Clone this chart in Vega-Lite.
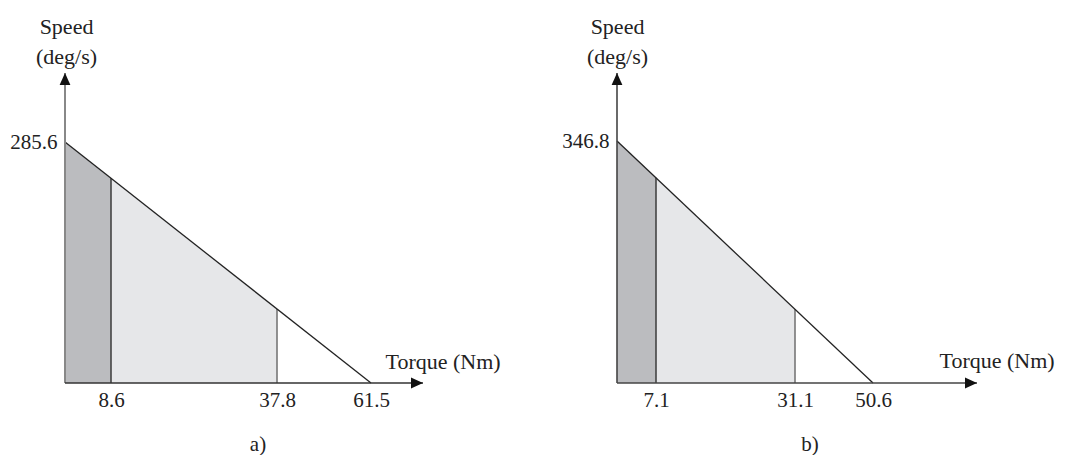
{
  "$schema": "https://vega.github.io/schema/vega-lite/v6.json",
  "padding": {"left": 9, "top": 15, "right": 0, "bottom": 0},
  "bounds": "flush",
  "spacing": 194,
  "background": "white",
  "config": {
    "view": {"stroke": null},
    "font": "Liberation Serif",
    "title": {"font": "Liberation Serif", "fontSize": 21, "fontWeight": "normal", "color": "#222"}
  },
  "hconcat": [
    {
      "width": 358,
      "height": 310,
      "title": {"text": "a)", "orient": "bottom", "anchor": "middle", "frame": "group", "dx": 14, "offset": 24, "baseline": "top"},
      "layer": [
        {
          "data": {"values": [
            {"torque": 0, "speed": 285.6, "zone": "peak"},
            {"torque": 8.6, "speed": 242.7, "zone": "peak"},
            {"torque": 8.6, "speed": 242.7, "zone": "continuous"},
            {"torque": 37.8, "speed": 87.7, "zone": "continuous"}
          ]},
          "mark": {"type": "area", "opacity": 1},
          "encoding": {
            "x": {"field": "torque", "type": "quantitative",
              "scale": {"domain": [0, 8.6, 37.8, 61.5, 70], "range": [0, 46, 212, 306, 358], "nice": false, "zero": false},
              "axis": {"values": [8.6, 37.8, 61.5], "format": ".1f", "domain": false, "ticks": false, "tickSize": 0, "grid": false,
                "labelFont": "Liberation Serif", "labelFontSize": 21, "labelColor": "#222", "labelPadding": 23, "labelBaseline": "alphabetic", "labelFlush": false, "labelOverlap": false,
                "title": "Torque (Nm)", "titleFont": "Liberation Serif", "titleFontSize": 22, "titleFontWeight": "normal", "titleColor": "#222",
                "titleX": 320, "titleY": -15, "titleAlign": "left", "titleBaseline": "alphabetic"}},
            "y": {"field": "speed", "type": "quantitative", "stack": null,
              "scale": {"domain": [0, 367.4], "nice": false, "zero": false},
              "axis": {"values": [285.6], "format": ".1f", "domain": false, "ticks": false, "tickSize": 0, "grid": false,
                "labelFont": "Liberation Serif", "labelFontSize": 21, "labelColor": "#222", "labelPadding": 8, "labelBaseline": "middle", "labelFlush": false, "labelOverlap": false,
                "title": ["Speed", "(deg/s)"], "titleFont": "Liberation Serif", "titleFontSize": 22, "titleFontWeight": "normal", "titleColor": "#222",
                "titleAngle": 0, "titleX": 1, "titleY": -40, "titleAlign": "center", "titleBaseline": "alphabetic", "titleLineHeight": 30}},
            "color": {"field": "zone", "type": "nominal", "scale": {"domain": ["peak", "continuous"], "range": ["#bbbcbf", "#e6e7e9"]}, "legend": null}
          }
        },
        {
          "data": {"values": [
            {"torque": 8.6, "speed": 242.7, "edge": "peak limit"},
            {"torque": 37.8, "speed": 87.7, "edge": "continuous limit"}
          ]},
          "mark": {"type": "rule", "strokeWidth": 1.6},
          "encoding": {
            "x": {"field": "torque", "type": "quantitative"},
            "y": {"field": "speed", "type": "quantitative"},
            "y2": {"datum": 0},
            "stroke": {"field": "edge", "type": "nominal", "scale": {"domain": ["peak limit", "continuous limit"], "range": ["#444444", "#777777"]}, "legend": null}
          }
        },
        {
          "data": {"values": [
            {"torque": 0, "speed": 285.6},
            {"torque": 61.5, "speed": 0}
          ]},
          "mark": {"type": "line", "stroke": "#222222", "strokeWidth": 1.3},
          "encoding": {
            "x": {"field": "torque", "type": "quantitative"},
            "y": {"field": "speed", "type": "quantitative"}
          }
        },
        {
          "data": {"values": [{"torque": 0, "speed": 367.4}]},
          "mark": {"type": "rule", "stroke": "#888888", "strokeWidth": 2},
          "encoding": {"x": {"field": "torque", "type": "quantitative"}, "y": {"field": "speed", "type": "quantitative"}, "y2": {"datum": 0}}
        },
        {
          "data": {"values": [{"torque": 70, "speed": 0}]},
          "mark": {"type": "rule", "stroke": "#333333", "strokeWidth": 1.6},
          "encoding": {"x": {"field": "torque", "type": "quantitative"}, "x2": {"datum": 0}, "y": {"field": "speed", "type": "quantitative"}}
        },
        {
          "data": {"values": [{"torque": 0, "speed": 367.4}]},
          "mark": {"type": "point", "filled": true, "opacity": 1, "color": "#111111", "size": 144, "shape": "M0,0L0.9,2L-0.9,2Z", "strokeWidth": 0},
          "encoding": {"x": {"field": "torque", "type": "quantitative"}, "y": {"field": "speed", "type": "quantitative"}}
        },
        {
          "data": {"values": [{"torque": 70, "speed": 0}]},
          "mark": {"type": "point", "filled": true, "opacity": 1, "color": "#111111", "size": 144, "shape": "M0,0L-2,-0.9L-2,0.9Z", "strokeWidth": 0},
          "encoding": {"x": {"field": "torque", "type": "quantitative"}, "y": {"field": "speed", "type": "quantitative"}}
        }
      ]
    },
    {
      "width": 360,
      "height": 310,
      "title": {"text": "b)", "orient": "bottom", "anchor": "middle", "frame": "group", "dx": 13, "offset": 24, "baseline": "top"},
      "layer": [
        {
          "data": {"values": [
            {"torque": 0, "speed": 346.8, "zone": "peak"},
            {"torque": 7.1, "speed": 294.0, "zone": "peak"},
            {"torque": 7.1, "speed": 294.0, "zone": "continuous"},
            {"torque": 31.1, "speed": 105.6, "zone": "continuous"}
          ]},
          "mark": {"type": "area", "opacity": 1},
          "encoding": {
            "x": {"field": "torque", "type": "quantitative",
              "scale": {"domain": [0, 7.1, 31.1, 50.6, 60], "range": [0, 39, 178, 256, 360], "nice": false, "zero": false},
              "axis": {"values": [7.1, 31.1, 50.6], "format": ".1f", "domain": false, "ticks": false, "tickSize": 0, "grid": false,
                "labelFont": "Liberation Serif", "labelFontSize": 21, "labelColor": "#222", "labelPadding": 23, "labelBaseline": "alphabetic", "labelFlush": false, "labelOverlap": false,
                "title": "Torque (Nm)", "titleFont": "Liberation Serif", "titleFontSize": 22, "titleFontWeight": "normal", "titleColor": "#222",
                "titleX": 322, "titleY": -16, "titleAlign": "left", "titleBaseline": "alphabetic"}},
            "y": {"field": "speed", "type": "quantitative", "stack": null,
              "scale": {"domain": [0, 444.3], "nice": false, "zero": false},
              "axis": {"values": [346.8], "format": ".1f", "domain": false, "ticks": false, "tickSize": 0, "grid": false,
                "labelFont": "Liberation Serif", "labelFontSize": 21, "labelColor": "#222", "labelPadding": 8, "labelBaseline": "middle", "labelFlush": false, "labelOverlap": false,
                "title": ["Speed", "(deg/s)"], "titleFont": "Liberation Serif", "titleFontSize": 22, "titleFontWeight": "normal", "titleColor": "#222",
                "titleAngle": 0, "titleX": 0, "titleY": -40, "titleAlign": "center", "titleBaseline": "alphabetic", "titleLineHeight": 30}},
            "color": {"field": "zone", "type": "nominal", "scale": {"domain": ["peak", "continuous"], "range": ["#bbbcbf", "#e6e7e9"]}, "legend": null}
          }
        },
        {
          "data": {"values": [
            {"torque": 7.1, "speed": 294.0, "edge": "peak limit"},
            {"torque": 31.1, "speed": 105.6, "edge": "continuous limit"}
          ]},
          "mark": {"type": "rule", "strokeWidth": 1.6},
          "encoding": {
            "x": {"field": "torque", "type": "quantitative"},
            "y": {"field": "speed", "type": "quantitative"},
            "y2": {"datum": 0},
            "stroke": {"field": "edge", "type": "nominal", "scale": {"domain": ["peak limit", "continuous limit"], "range": ["#333333", "#666666"]}, "legend": null}
          }
        },
        {
          "data": {"values": [
            {"torque": 0, "speed": 346.8},
            {"torque": 50.6, "speed": 0}
          ]},
          "mark": {"type": "line", "stroke": "#222222", "strokeWidth": 1.3},
          "encoding": {
            "x": {"field": "torque", "type": "quantitative"},
            "y": {"field": "speed", "type": "quantitative"}
          }
        },
        {
          "data": {"values": [{"torque": 0, "speed": 444.3}]},
          "mark": {"type": "rule", "stroke": "#444444", "strokeWidth": 1.6},
          "encoding": {"x": {"field": "torque", "type": "quantitative"}, "y": {"field": "speed", "type": "quantitative"}, "y2": {"datum": 0}}
        },
        {
          "data": {"values": [{"torque": 60, "speed": 0}]},
          "mark": {"type": "rule", "stroke": "#444444", "strokeWidth": 1.6},
          "encoding": {"x": {"field": "torque", "type": "quantitative"}, "x2": {"datum": 0}, "y": {"field": "speed", "type": "quantitative"}}
        },
        {
          "data": {"values": [{"torque": 0, "speed": 444.3}]},
          "mark": {"type": "point", "filled": true, "opacity": 1, "color": "#111111", "size": 144, "shape": "M0,0L0.9,2L-0.9,2Z", "strokeWidth": 0},
          "encoding": {"x": {"field": "torque", "type": "quantitative"}, "y": {"field": "speed", "type": "quantitative"}}
        },
        {
          "data": {"values": [{"torque": 60, "speed": 0}]},
          "mark": {"type": "point", "filled": true, "opacity": 1, "color": "#111111", "size": 144, "shape": "M0,0L-2,-0.9L-2,0.9Z", "strokeWidth": 0},
          "encoding": {"x": {"field": "torque", "type": "quantitative"}, "y": {"field": "speed", "type": "quantitative"}}
        }
      ]
    }
  ]
}
